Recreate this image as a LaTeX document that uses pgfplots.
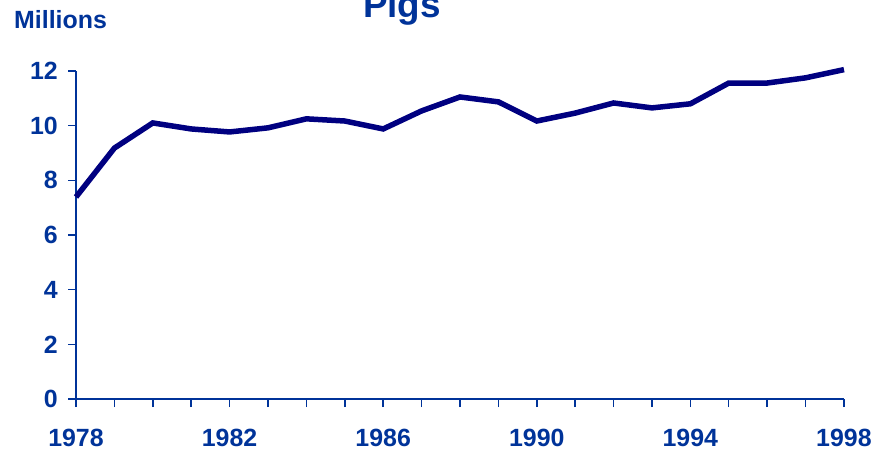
\documentclass[border=0pt]{standalone}
\usepackage{pgfplots}
\pgfplotsset{compat=1.18}
\usepackage{fontspec}
\setmainfont{Liberation Sans}
\definecolor{txtblue}{RGB}{0,51,153}
\definecolor{linenavy}{RGB}{0,0,128}

\begin{document}
\begin{tikzpicture}
\begin{axis}[
  at={(76bp,54bp)}, anchor=south west,
  scale only axis, width=768bp, height=328bp,
  xmin=1978, xmax=1998, ymin=0, ymax=12,
  xtick={1978,1979,...,1998},
  xticklabels={1978,,,,1982,,,,1986,,,,1990,,,,1994,,,,1998},
  ytick={0,2,...,12},
  axis lines*=left,
  axis line style={txtblue, line width=1.5bp},
  tick align=outside,
  major tick length=8bp,
  every tick/.style={txtblue, line width=1.5bp},
  /pgf/number format/assume math mode=true,
  ticklabel style={font=\fontsize{25}{28}\selectfont\bfseries, text=txtblue, inner sep=0pt},
  xticklabel style={anchor=north, yshift=-22bp},
  yticklabel style={anchor=east, xshift=-10bp},
  clip=false,
]
\addplot[linenavy, line width=5.5bp] coordinates {
  (1978,7.39) (1979,9.18) (1980,10.10) (1981,9.88) (1982,9.77)
  (1983,9.92) (1984,10.25) (1985,10.17) (1986,9.88) (1987,10.54)
  (1988,11.05) (1989,10.87) (1990,10.17) (1991,10.46) (1992,10.83)
  (1993,10.65) (1994,10.80) (1995,11.56) (1996,11.56) (1997,11.75)
  (1998,12.05)
};
\end{axis}
\node[anchor=base, inner sep=0pt, text=txtblue, font=\fontsize{37}{40}\selectfont\bfseries] at (402bp,435bp) {Pigs};
\node[anchor=base west, inner sep=0pt, text=txtblue, font=\fontsize{25}{28}\selectfont\bfseries] at (14bp,424bp) {Millions};
\pgfresetboundingbox
\useasboundingbox (0,0) rectangle (874bp,453bp);
\end{tikzpicture}
\end{document}
